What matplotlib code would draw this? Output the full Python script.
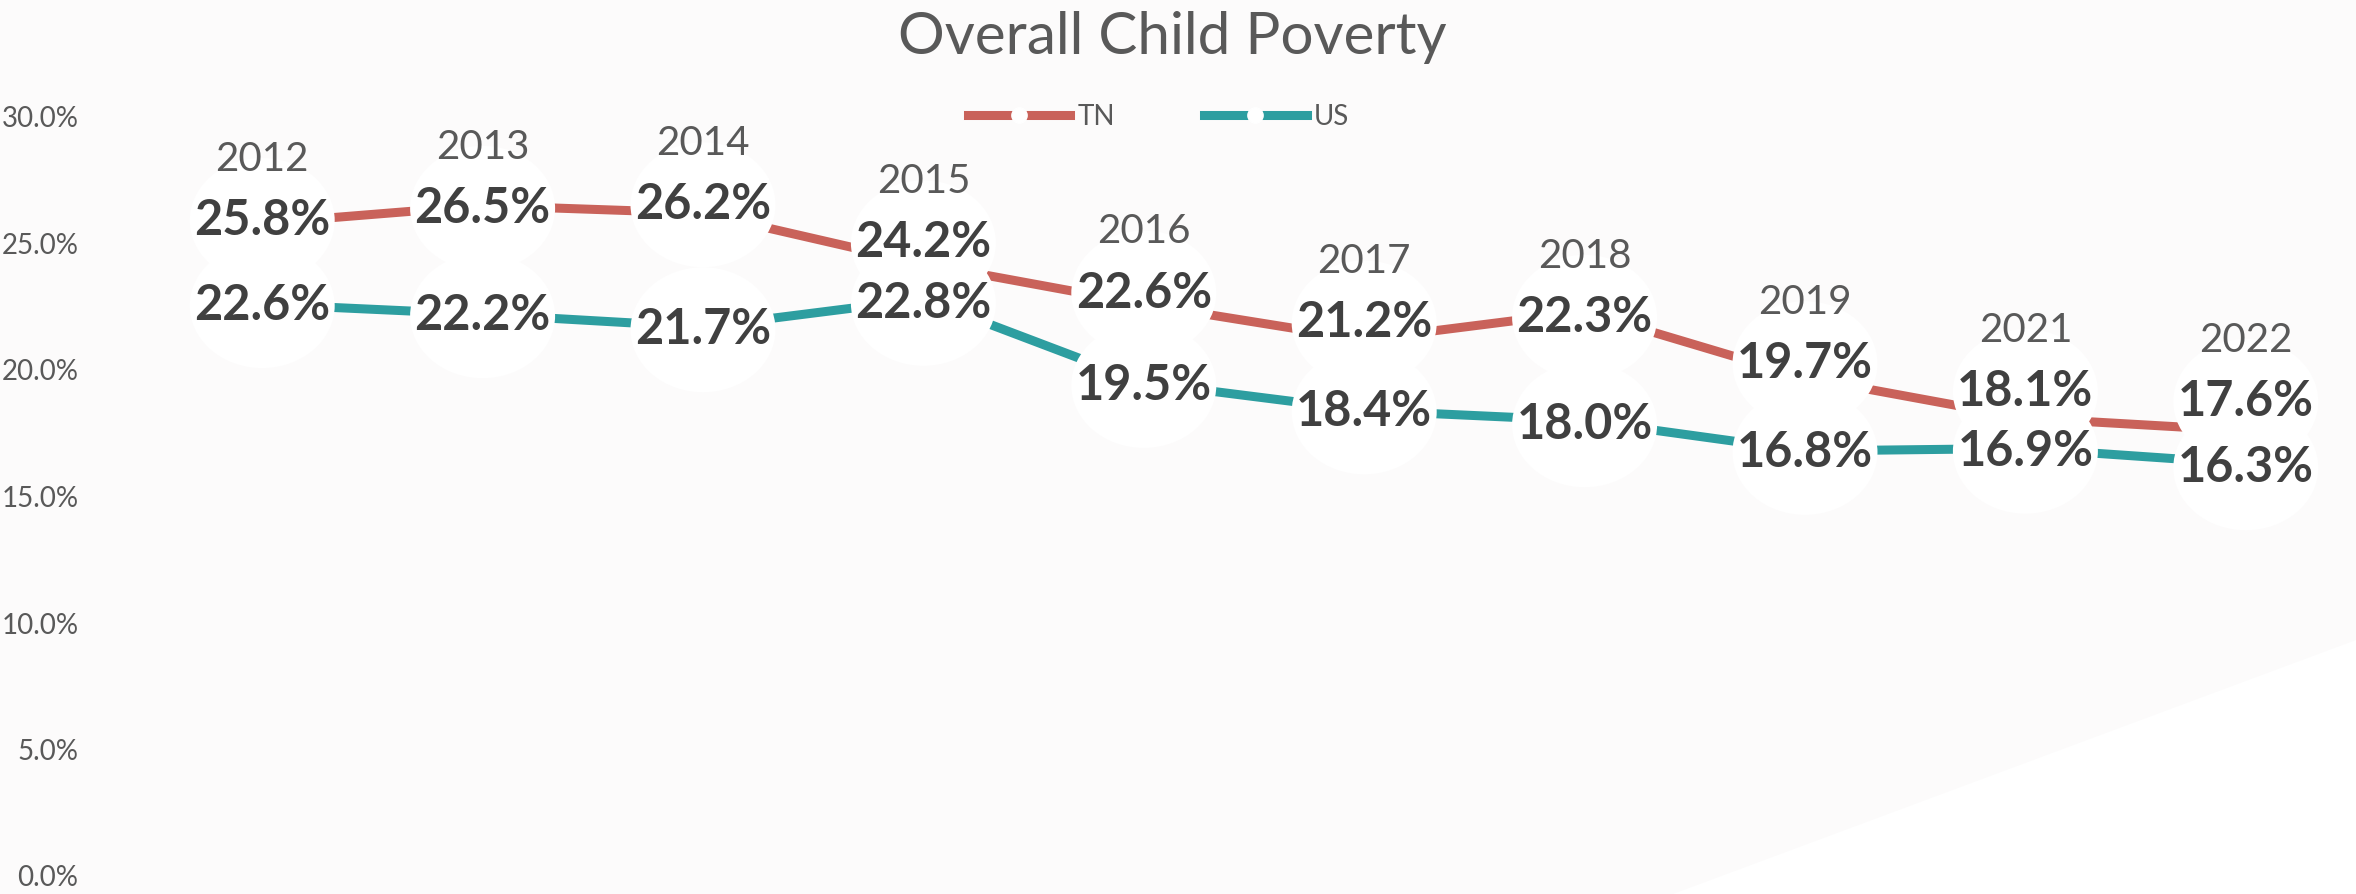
import matplotlib
matplotlib.use("Agg")
import matplotlib.pyplot as plt
import matplotlib.ticker as ticker
import matplotlib.transforms as mtransforms
from matplotlib.patches import Ellipse, Polygon
from matplotlib.lines import Line2D

plt.rcParams['font.family'] = ['Lato', 'DejaVu Sans']

# data
years = ['2012', '2013', '2014', '2015', '2016', '2017', '2018', '2019', '2021', '2022']
tn = [25.8, 26.5, 26.2, 24.2, 22.6, 21.2, 22.3, 19.7, 18.1, 17.6]
us = [22.6, 22.2, 21.7, 22.8, 19.5, 18.4, 18.0, 16.8, 16.9, 16.3]

# label nudges (points) so labels don't collide, as in the original
tn_dy = [2, -2, 6, 15, 8, 12, -4, 10, 19, 21]
us_dy = [-1, -1, -2, -3, -2, -1, -3, -1, -2, -3]

red = '#C9625A'
teal = '#2D9EA0'
bg = '#FCFBFB'

fig = plt.figure(figsize=(23.56, 8.94), dpi=100, facecolor=bg)
# faint lighter triangle bottom right
fig.patches.append(Polygon([(1673/2356, 0), (1, 254/894), (1, 0)], closed=True,
                           transform=fig.transFigure, fc='white', ec='none', zorder=0))

ax = fig.add_axes([152/2356, 1-876/894, 1-152/2356, (876-117)/894])
ax.set_facecolor('none')
x = list(range(len(years)))
ax.plot(x, [v/100 for v in tn], color=red, lw=6.5, solid_capstyle='butt', zorder=2)
ax.plot(x, [v/100 for v in us], color=teal, lw=6.5, solid_capstyle='butt', zorder=2)

ax.set_xlim(-0.5, len(years)-0.5)
ax.set_ylim(0, 0.30)
ax.yaxis.set_major_locator(ticker.MultipleLocator(0.05))
ax.yaxis.set_major_formatter(ticker.PercentFormatter(1.0, decimals=1))
ax.set_xticks([])
for s in ax.spines.values():
    s.set_visible(False)
ax.tick_params(axis='y', length=0, pad=53, labelsize=20, labelcolor='#595959')

ell_w = 145/220.4
ell_h = 0.0494
for i in range(len(years)):
    for vals, dys in ((tn, tn_dy), (us, us_dy)):
        tr = mtransforms.offset_copy(ax.transData, fig=fig, x=0, y=dys[i], units='points')
        ax.add_patch(Ellipse((i, vals[i]/100), ell_w, ell_h, transform=tr,
                             fc='white', ec='none', zorder=3, clip_on=False))
    ax.annotate(f'{tn[i]:.1f}%', (i, tn[i]/100), xytext=(0, tn_dy[i]), textcoords='offset points',
                ha='center', va='center', fontsize=35, fontweight='bold', color='#404040', zorder=4)
    ax.annotate(f'{us[i]:.1f}%', (i, us[i]/100), xytext=(0, us_dy[i]), textcoords='offset points',
                ha='center', va='center', fontsize=35, fontweight='bold', color='#404040', zorder=4)
    ax.annotate(years[i], (i, tn[i]/100), xytext=(0, tn_dy[i]+44), textcoords='offset points',
                ha='center', va='center', fontsize=29, color='#595959', zorder=4)

fig.text(0.4975, 0.958, 'Overall Child Poverty', ha='center', va='center', fontsize=42, color='#595959')

handles = [Line2D([], [], color=red, lw=6.5, marker='o', markersize=11, markerfacecolor='white',
                  markeredgecolor='white'),
           Line2D([], [], color=teal, lw=6.5, marker='o', markersize=11, markerfacecolor='white',
                  markeredgecolor='white')]
fig.legend(handles, ['TN', 'US'], loc='center', bbox_to_anchor=(0.4916, 0.869), ncol=2, frameon=False,
           fontsize=20, labelcolor='#595959', handlelength=3.7, handletextpad=0.25, columnspacing=3.2)

fig.savefig('out.png', dpi=100, facecolor=bg)
